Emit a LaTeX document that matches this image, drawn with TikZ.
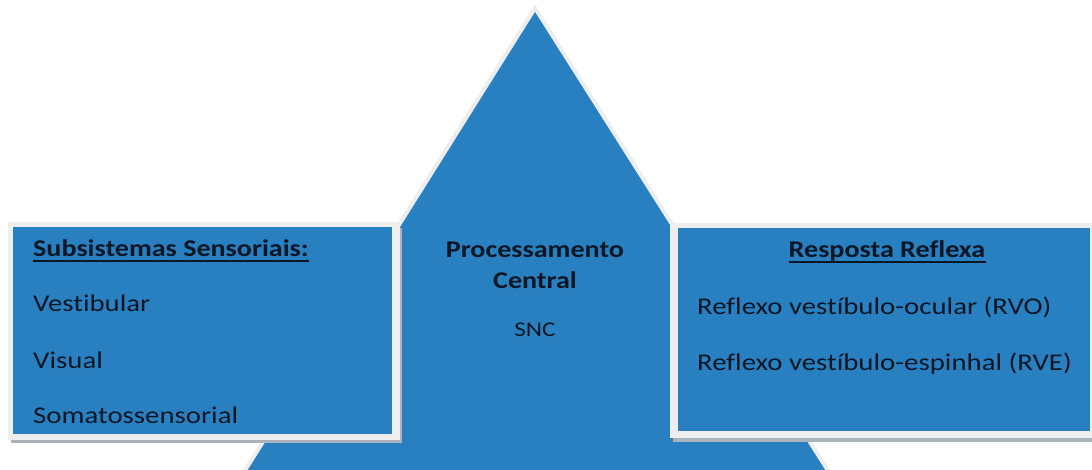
\documentclass[tikz,border=0pt]{standalone}
\usepackage{fontspec}
\setmainfont{Carlito}[FakeStretch=1.2, Ligatures={NoCommon}, BoldFeatures={FakeStretch=1.17}]
\definecolor{sblue}{RGB}{40,128,193}
\definecolor{edgegray}{RGB}{238,238,238}
\definecolor{shadowgray}{RGB}{170,178,186}
\definecolor{txt}{RGB}{12,22,36}
\tikzset{
  lbl/.style={inner sep=0pt, text=txt, font=\fontsize{24}{28}\selectfont},
  hdr/.style={lbl, font=\fontsize{24}{28}\selectfont\bfseries},
  small/.style={inner sep=0pt, text=txt, font=\fontsize{21}{24}\selectfont},
  uline/.style={draw=txt, line width=1.8pt},
  boxouter/.style={fill=edgegray, draw=none},
  boxinner/.style={fill=sblue, draw=none},
  boxshadow/.style={fill=shadowgray, draw=none},
}
\begin{document}
\begin{tikzpicture}[x=1pt,y=-1pt]
\useasboundingbox (0,0) rectangle (1092,470);
\clip (0,0) rectangle (1092,470);
\fill[white] (0,0) rectangle (1092,470);
% central triangle
\coordinate (apex) at (535,8);
\coordinate (bl) at (239,480);
\coordinate (br) at (834,480);
\filldraw[fill=sblue, draw=edgegray, line width=4pt, line join=miter] (apex) -- (br) -- (bl) -- cycle;
% left box
\fill[boxshadow] (11,228) rectangle (402,443);
\fill[boxouter] (8,222) rectangle (400,440);
\fill[boxinner] (13,227) rectangle (392,434);
% right box
\fill[boxshadow] (673,228) rectangle (1100,442);
\fill[boxouter] (670,223) rectangle (1100,438);
\fill[boxinner] (678,228) rectangle (1090,431);
% left texts
\node[hdr, anchor=base west] (sub) at (33,257) {Subsistemas Sensoriais:};
\draw[uline] ([yshift=-4pt]sub.base west) -- ([yshift=-4pt]sub.base east);
\node[lbl, anchor=base west] (vest) at (33,312) {Vestibular};
\node[lbl, anchor=base west] (vis) at (33,368) {Visual};
\node[lbl, anchor=base west] (soma) at (33,423) {Somatossensorial};
% center texts
\node[hdr, anchor=base] (proc) at (535,258) {Processamento};
\node[hdr, anchor=base] (cent) at (535,288) {Central};
\node[small, anchor=base] (snc) at (535,336) {SNC};
% right texts
\node[hdr, anchor=base] (resp) at (887,258) {Resposta Reflexa};
\draw[uline] ([yshift=-4pt]resp.base west) -- ([yshift=-4pt]resp.base east);
\node[lbl, anchor=base west] (rvo) at (697,314) {Reflexo vestíbulo-ocular (RVO)};
\node[lbl, anchor=base west] (rve) at (697,370) {Reflexo vestíbulo-espinhal (RVE)};
\end{tikzpicture}
\end{document}
